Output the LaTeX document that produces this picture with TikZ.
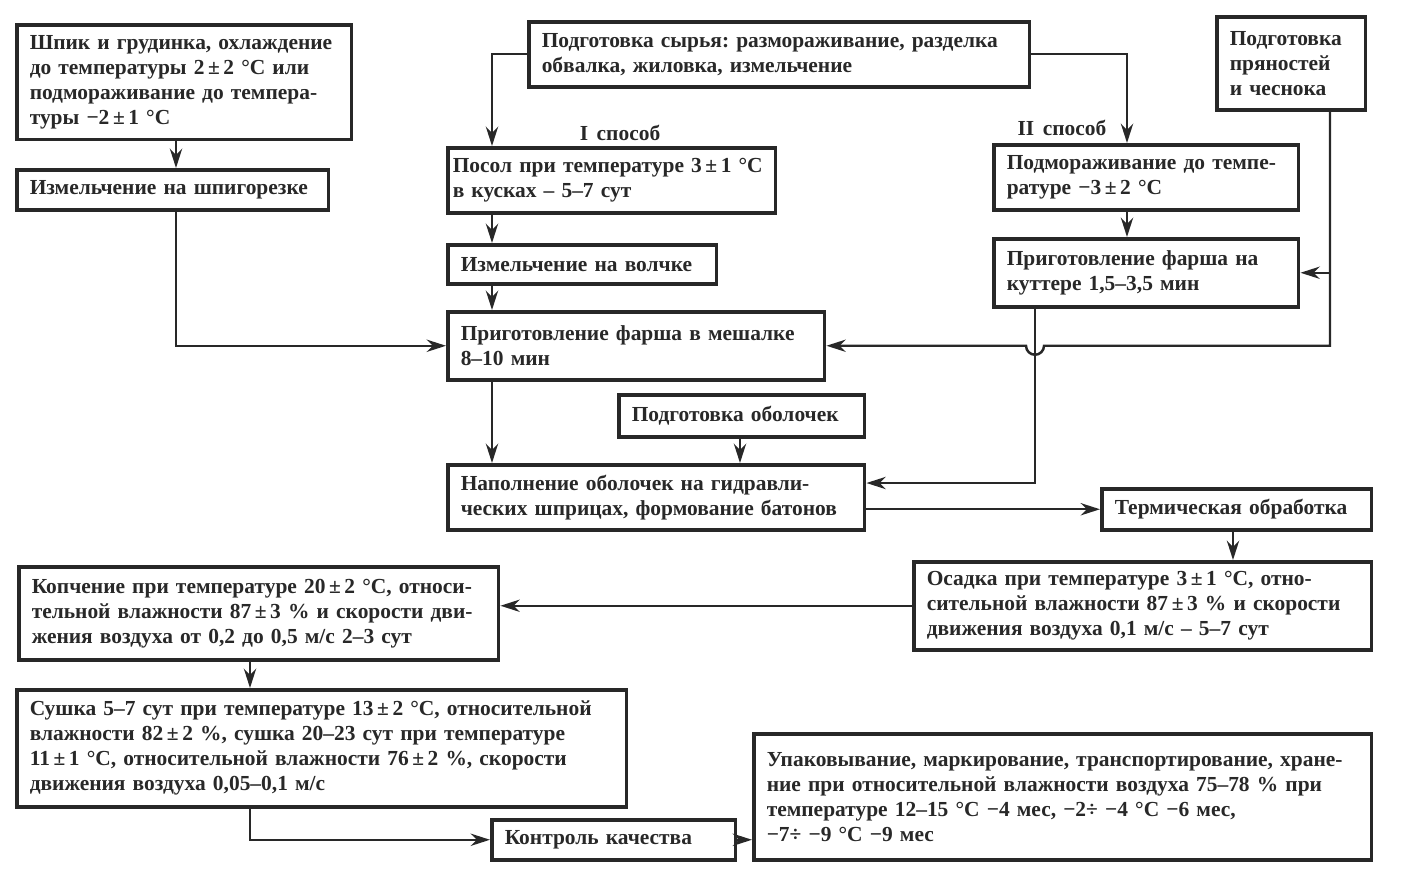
\documentclass[tikz,border=0pt]{standalone}
\usepackage{fontspec}
\setmainfont{Liberation Serif}[WordSpace=1.6]
\frenchspacing
\usetikzlibrary{arrows.meta, positioning, calc}
\definecolor{inkdark}{RGB}{40,40,40}
\tikzset{
  block/.style={rectangle, draw=inkdark, fill=white, text=inkdark,
    anchor=north west, align=left, inner xsep=0.26cm,
    font=\bfseries\fontsize{12.2}{14.2}\selectfont, line width=2pt},
  note/.style={font=\bfseries\fontsize{12.2}{14.2}\selectfont, text=inkdark},
  arrow/.style={-{Stealth[length=11pt, width=7pt]}, line width=1.4pt, color=inkdark},
  line/.style={line width=1.4pt, color=inkdark}
}

\begin{document}
\begin{tikzpicture}[x=0.02cm, y=-0.02cm]
  \useasboundingbox (0,0) rectangle (1407,877);

  % Blocks
  \node[block, text width=6.18cm, minimum height=2.3cm] (shpik) at (15,23)
    {Шпик и грудинка, охлаждение\\до температуры 2\,±\,2~°С или\\подмораживание до темпера-\\туры −2\,±\,1~°С};
  \node[block, text width=5.72cm, minimum height=0.8cm] (shpig) at (15,168)
    {Измельчение на шпигорезке};
  \node[block, text width=9.5cm, minimum height=1.3cm] (syrje) at (527,20)
    {Подготовка сырья: размораживание, разделка\\обвалка, жиловка, измельчение};
  \node[block, text width=2.46cm, minimum height=1.86cm] (spices) at (1215,15)
    {Подготовка\\пряностей\\и чеснока};
  \node[block, inner xsep=0.1cm, text width=6.36cm, minimum height=1.3cm] (posol) at (446,146)
    {Посол при температуре 3\,±\,1~°С\\в кусках – 5–7 сут};
  \node[block, text width=5.58cm, minimum height=1.3cm] (podmor) at (992,143)
    {Подмораживание до темпе-\\ратуре −3\,±\,2~°С};
  \node[block, text width=4.86cm, minimum height=0.78cm] (volchok) at (446,243)
    {Измельчение на волчке};
  \node[block, text width=5.58cm, minimum height=1.36cm] (cutter) at (992,237)
    {Приготовление фарша на\\куттере 1,5–3,5 мин};
  \node[block, text width=7.02cm, minimum height=1.36cm] (mixer) at (446,310)
    {Приготовление фарша в мешалке\\8–10 мин};
  \node[block, text width=4.4cm, minimum height=0.84cm] (casing) at (617,393)
    {Подготовка оболочек};
  \node[block, text width=7.82cm, minimum height=1.3cm] (filling) at (446,463)
    {Наполнение оболочек на гидравли-\\ческих шприцах, формование батонов};
  \node[block, text width=4.88cm, minimum height=0.82cm] (thermal) at (1100,487)
    {Термическая обработка};
  \node[block, text width=8.64cm, minimum height=1.76cm] (osadka) at (912,560)
    {Осадка при температуре 3\,±\,1~°С, отно-\\сительной влажности 87\,±\,3~\% и скорости\\движения воздуха 0,1 м/с – 5–7 сут};
  \node[block, text width=9.08cm, minimum height=1.86cm] (smoking) at (17,565)
    {Копчение при температуре 20\,±\,2~°С, относи-\\тельной влажности 87\,±\,3~\% и скорости дви-\\жения воздуха от 0,2 до 0,5 м/с 2–3 сут};
  \node[block, text width=11.68cm, minimum height=2.34cm] (drying) at (15,688)
    {Сушка 5–7 сут при температуре 13\,±\,2~°С, относительной\\влажности 82\,±\,2~\%, сушка 20–23 сут при температуре\\11\,±\,1~°С, относительной влажности 76\,±\,2~\%, скорости\\движения воздуха 0,05–0,1 м/с};
  \node[block, text width=4.36cm, minimum height=0.8cm] (control) at (490,818)
    {Контроль качества};
  \node[block, text width=11.84cm, minimum height=2.52cm] (packing) at (752,732)
    {Упаковывание, маркирование, транспортирование, хране-\\ние при относительной влажности воздуха 75–78~\% при\\температуре 12–15~°С −4 мес, −2÷ −4~°С −6 мес,\\−7÷ −9~°С −9 мес};

  \node[note] (way1) at (620,133) {I способ};
  \node[note] (way2) at (1062,128) {II способ};

  % Columns and rows of the connectors
  \coordinate (colA) at (176,0);
  \coordinate (colB) at (492,0);
  \coordinate (colC) at (1127,0);
  \coordinate (colD) at (1035,0);
  \coordinate (colE) at (1330,0);
  \coordinate (colF) at (740,0);
  \coordinate (colG) at (1233,0);
  \coordinate (colH) at (250,0);
  \coordinate (fillrow) at (0,483);

  % Paths
  \draw[arrow] (shpik.south -| colA) -- (shpig.north -| colA);
  \draw[arrow] (shpig.south -| colA) |- (mixer.west);
  \draw[arrow] (syrje.west) -| (posol.north -| colB);
  \draw[arrow] (syrje.east) -| (podmor.north -| colC);
  \draw[arrow] (posol.south -| colB) -- (volchok.north -| colB);
  \draw[arrow] (volchok.south -| colB) -- (mixer.north -| colB);
  \draw[arrow] (podmor.south -| colC) -- (cutter.north -| colC);
  \draw[arrow] (spices.south -| colE) -- (colE |- mixer.east)
    -- ($(colD |- mixer.east)+(9,0)$) arc[start angle=0, end angle=-180, radius=0.18cm]
    -- (mixer.east);
  \draw[arrow] (colE |- cutter.east) -- (cutter.east);
  \draw[arrow] (cutter.south -| colD) -- (colD |- fillrow) -- (fillrow -| filling.east);
  \draw[arrow] (mixer.south -| colB) -- (filling.north -| colB);
  \draw[arrow] (casing.south -| colF) -- (filling.north -| colF);
  \draw[arrow] (filling.east |- thermal.west) -- (thermal.west);
  \draw[arrow] (thermal.south -| colG) -- (osadka.north -| colG);
  \draw[arrow] (osadka.west) -- (osadka.west -| smoking.east);
  \draw[arrow] (smoking.south -| colH) -- (drying.north -| colH);
  \draw[arrow] (drying.south -| colH) |- (control.west);
  \draw[arrow] (control.east) -- (control.east -| packing.west);
\end{tikzpicture}
\end{document}
